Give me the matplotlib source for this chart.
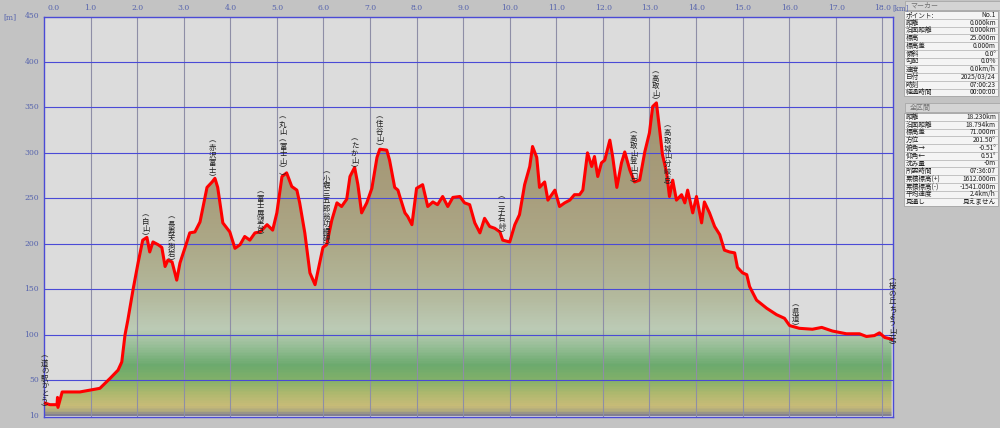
"""
Elevation profile (km vs m) with side info panel
"""

import numpy as np
import matplotlib
matplotlib.use('Agg')
import matplotlib.pyplot as plt
from matplotlib.patches import Rectangle, PathPatch
from matplotlib.path import Path
from matplotlib.colors import LinearSegmentedColormap

plt.rcParams['font.family'] = ['Noto Sans CJK JP', 'DejaVu Sans']

###data: distance [km] and elevation [m]
dist_km = [0.00, 0.13, 0.28, 0.29, 0.30, 0.39, 0.77, 0.99, 1.20, 1.42, 1.59, 1.67, 1.74,
           1.80, 1.91, 2.02, 2.12, 2.21, 2.27, 2.34, 2.45, 2.53, 2.60, 2.66, 2.75,
           2.85, 2.92, 3.03, 3.13, 3.24, 3.35, 3.50, 3.61, 3.67, 3.73, 3.84, 3.99,
           4.10, 4.21, 4.31, 4.42, 4.53, 4.64, 4.79, 4.91, 5.00, 5.11, 5.21, 5.32,
           5.43, 5.49, 5.60, 5.71, 5.82, 5.92, 5.99, 6.07, 6.18, 6.29, 6.39, 6.50,
           6.57, 6.67, 6.74, 6.82, 6.93, 7.04, 7.15, 7.21, 7.36, 7.42, 7.53, 7.60,
           7.64, 7.75, 7.81, 7.90, 8.00, 8.13, 8.24, 8.35, 8.45, 8.56, 8.67, 8.78,
           8.93, 9.03, 9.14, 9.25, 9.36, 9.46, 9.57, 9.68, 9.79, 9.85, 10.00, 10.11,
           10.21, 10.32, 10.43, 10.49, 10.58, 10.64, 10.75, 10.82, 10.97, 11.07,
           11.18, 11.29, 11.39, 11.50, 11.57, 11.67, 11.76, 11.82, 11.89, 11.97,
           12.04, 12.15, 12.21, 12.30, 12.40, 12.47, 12.58, 12.68, 12.79, 12.90,
           13.00, 13.07, 13.15, 13.22, 13.28, 13.37, 13.43, 13.50, 13.58, 13.69,
           13.76, 13.82, 13.93, 14.01, 14.12, 14.18, 14.29, 14.40, 14.51, 14.61,
           14.72, 14.83, 14.89, 15.00, 15.09, 15.15, 15.30, 15.52, 15.73, 15.90,
           16.01, 16.22, 16.50, 16.70, 16.93, 17.23, 17.51, 17.66, 17.83, 17.94,
           18.05, 18.20]
elev_m = [25, 23, 23, 31, 20, 37, 37, 39, 41, 52, 61, 70, 100,
          116, 149, 179, 204, 207, 191, 202, 199, 196, 175, 182, 180,
          160, 179, 196, 212, 213, 224, 262, 268, 272, 262, 223, 213,
          195, 199, 208, 204, 212, 213, 221, 215, 234, 274, 278, 263,
          259, 245, 212, 168, 155, 179, 196, 199, 226, 245, 241, 249,
          274, 284, 265, 234, 245, 261, 295, 304, 303, 292, 262, 259,
          252, 234, 230, 221, 261, 265, 241, 246, 243, 252, 241, 251,
          252, 245, 243, 223, 212, 228, 219, 217, 213, 204, 202, 221,
          232, 265, 285, 307, 295, 262, 268, 248, 259, 241,
          245, 248, 254, 254, 259, 300, 285, 296, 274, 289,
          292, 314, 296, 262, 289, 301, 281, 268, 270, 301,
          322, 351, 355, 325, 298, 278, 252, 270, 248, 254,
          245, 259, 234, 252, 223, 246, 234, 219, 210, 193,
          191, 190, 174, 168, 166, 153, 138, 129, 122, 118,
          110, 107, 106, 108, 104, 101, 101, 98, 99, 102,
          97, 95]

###waypoint labels (distance, top of label in m)
wp_names = ['道の駅かとう', '白山', '長寿天狗岩', '赤沢富士', '富士展望台',
            '丸山︵富士山︶', '小堀三五郎翁功績碑', 'たか山', '住谷山', '二子石峠',
            '高取山登山口', '高取山', '高取城山分岐点', '県道', '桜の丘ちょう山荘']
wp_km = [0.02, 2.19, 2.73, 3.61, 4.64, 5.13, 6.07, 6.67, 7.21, 9.83,
         12.66, 13.13, 13.39, 16.14, 18.22]
wp_top = [81, 237, 234, 318, 262, 344, 284, 320, 344, 256,
          328, 394, 334, 138, 166]

###side panel
marker_rows = [('ポイント:', 'No.1'), ('距離', '0.000km'), ('沿面距離', '0.000km'),
               ('標高', '25.000m'), ('標高差', '0.000m'), ('傾斜', '0.0°'),
               ('勾配', '0.0%'), ('速度', '0.0km/h'), ('日付', '2025/03/24'),
               ('時刻', '07:00:23'), ('経過時間', '00:00:00')]
total_rows = [('距離', '18.230km'), ('沿面距離', '18.794km'), ('標高差', '71.000m'),
              ('方位', '201.50°'), ('俯角→', '-0.51°'), ('仰角←', '0.51°'),
              ('沈み量', '-0m'), ('所要時間', '07:36:07'), ('累積標高(+)', '1612.000m'),
              ('累積標高(-)', '-1541.000m'), ('平均速度', '2.4km/h'), ('見通し', '見えません')]

xmax = 18.23
ymin, ymax = 10, 450
tick_color = '#5563ad'

fig = plt.figure(figsize=(10, 4.28), dpi=100)
fig.patch.set_facecolor('#c3c3c3')
plot = fig.add_axes([0.044, 1 - 416.5 / 428, 0.849, 400 / 428])
plot.set_facecolor('#dcdcdc')
plot.set_xlim(0, xmax)
plot.set_ylim(ymin, ymax)

###gradient under the profile
stops = [(10, (130, 128, 145)), (13, (170, 165, 128)), (20, (200, 188, 120)),
         (35, (172, 184, 110)), (50, (128, 176, 105)), (65, (108, 170, 110)),
         (85, (150, 190, 150)), (105, (188, 203, 182)), (140, (180, 186, 158)),
         (200, (172, 168, 135)), (260, (168, 157, 124)), (360, (160, 147, 112)),
         (450, (155, 140, 105))]
cmap = LinearSegmentedColormap.from_list(
    'terrain_grad', [((e - ymin) / (ymax - ymin), tuple(c / 255 for c in rgb)) for e, rgb in stops])
grad = np.linspace(0, 1, 400).reshape(-1, 1)
img = plot.imshow(grad, cmap=cmap, aspect='auto', origin='lower',
                  extent=[0, xmax, ymin, ymax], zorder=1)
verts = list(zip(dist_km, elev_m)) + [(dist_km[-1], ymin), (xmax, ymin), (xmax, ymin - 5),
                                       (0, ymin - 5), (0, ymin)]
clip = PathPatch(Path(verts), transform=plot.transData, facecolor='none', edgecolor='none')
plot.add_patch(clip)
img.set_clip_path(clip)

###grid
for km in range(1, 19):
    plot.axvline(km, color='#8e8ea6', lw=0.8, zorder=2)
for h in range(50, 450, 50):
    plot.axhline(h, color='#4a4ad6', lw=0.8, zorder=2)

###profile line
plot.plot(dist_km, elev_m, color='#ff0000', lw=2.2, zorder=4, solid_joinstyle='round')

###frame
for spine in plot.spines.values():
    spine.set_edgecolor('#4a4ad6')
    spine.set_linewidth(1.0)
plot.set_xticks([])
plot.set_yticks([])

###tick labels
for km in range(0, 19):
    xp = 44 + km * 46.6
    fig.text((xp + (4 if km == 0 else 0)) / 1000, 1 - 8 / 428, '%.1f' % km, fontsize=5.5,
             color=tick_color, ha='left' if km == 0 else 'center', va='center',
             family=['DejaVu Serif'])
for h in [10] + list(range(50, 451, 50)):
    yp = 416.5 - (h - ymin) * 400 / (ymax - ymin)
    fig.text(39 / 1000, 1 - yp / 428, str(h), fontsize=5.5, color=tick_color,
             ha='right', va='center', family=['DejaVu Serif'])
fig.text(3 / 1000, 1 - 17 / 428, '[m]', fontsize=5.5, color=tick_color, va='center',
         family=['DejaVu Serif'])
fig.text(892 / 1000, 1 - 8 / 428, '[km]', fontsize=5, color=tick_color, va='center',
         family=['DejaVu Serif'])

###waypoint labels (vertical)
for name, km, top in zip(wp_names, wp_km, wp_top):
    label = '\n'.join('︵' + name + '︶')
    plot.text(km, top, label, fontsize=5.3, color='#202020', ha='center', va='top',
              linespacing=0.92, zorder=5, clip_on=False)

###side panel in pixel coordinates
panel = fig.add_axes([903 / 1000, 0, 97 / 1000, 1])
panel.set_xlim(0, 97)
panel.set_ylim(428, 0)
panel.axis('off')


def draw_table(rows, y0, header):
    panel.add_patch(Rectangle((2, y0 - 10), 95, 9, facecolor='#d4d4d4', edgecolor='#a0a0a0', lw=0.5))
    panel.text(7, y0 - 5.5, header, fontsize=5, color='#707070', va='center')
    rh = 7.75
    panel.add_patch(Rectangle((1, y0), 94, rh * len(rows), facecolor='#f4f4f4',
                              edgecolor='#909090', lw=0.6))
    for i, (lab, val) in enumerate(rows):
        y = y0 + i * rh
        panel.add_patch(Rectangle((1, y), 94, rh, facecolor='none', edgecolor='#b8b8b8', lw=0.4))
        panel.text(3, y + rh / 2, lab, fontsize=4.8, color='#202020', va='center')
        panel.text(93, y + rh / 2, val, fontsize=4.8, color='#202020', va='center', ha='right')


draw_table(marker_rows, 11, 'マーカー')
draw_table(total_rows, 113, '全区間')

fig.savefig('out.png', dpi=100, facecolor=fig.get_facecolor())
